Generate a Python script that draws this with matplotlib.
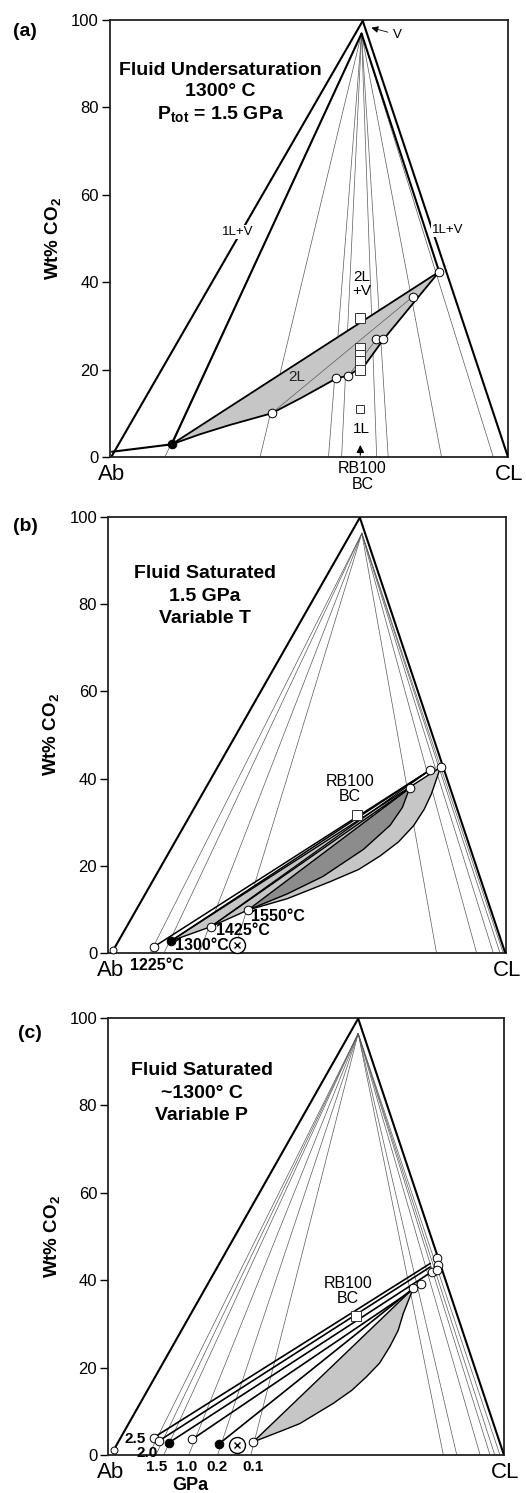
import matplotlib
matplotlib.use("Agg")
import matplotlib.pyplot as plt

plt.rcParams['font.family'] = ['Liberation Sans', 'DejaVu Sans']
plt.rcParams['mathtext.fontset'] = 'custom'
plt.rcParams['mathtext.rm'] = 'Liberation Sans'
plt.rcParams['mathtext.bf'] = 'Liberation Sans:bold'
plt.rcParams['mathtext.it'] = 'Liberation Sans:italic'

LIGHT = '#c6c6c6'
DARK = '#8c8c8c'
FAN = '#5a5a5a'

# ---------------- (a) fluid undersaturation, 1300 C, 1.5 GPa
a_apex = [63.5, 99.8]
a_fan_top = [63.2, 96.9]
a_ab = [0.5, 0.3]
a_cl = [100.0, 0.0]
a_fan_base = [13.8, 37.7, 54.9, 58.2, 67.0, 69.9, 83.3, 96.3]
a_dot = [15.5, 2.9]
a_liq_x = [40.6, 56.9, 59.8, 66.9, 68.7, 76.1, 82.7]
a_liq_y = [10.0, 18.0, 18.5, 26.9, 26.9, 36.7, 42.4]
a_sq_x = [62.9, 62.9, 62.9, 62.9, 62.9]
a_sq_y = [31.7, 24.9, 23.4, 21.9, 19.9]
a_sq1 = [62.9, 10.9]
a_low_x = [15.5, 22.6, 30.0, 40.6, 48.0, 56.9, 59.8, 64.1, 68.7, 82.7]
a_low_y = [2.9, 5.2, 7.3, 10.0, 13.5, 18.0, 18.6, 21.1, 26.9, 42.4]

# ---------------- (b) fluid saturated, 1.5 GPa, variable T
b_apex = [63.3, 99.8]
b_fan_top = [63.8, 96.2]
b_ab = [1.3, 0.8]
b_cl = [99.8, 0.3]
b_fan_base = [10.5, 14.0, 22.8, 31.5, 82.6, 92.7, 96.9, 98.6, 99.4]
b_temps = ['1225°C', '1300°C', '1425°C', '1550°C']
b_left_x = [11.5, 15.7, 25.8, 35.1]
b_left_y = [1.5, 2.8, 6.1, 9.9]
b_left_fill = ['white', 'black', 'white', 'white']
b_right_x = [75.8, 81.0, 83.6]
b_right_y = [37.8, 42.0, 42.6]
b_sq = [62.5, 31.7]
b_xcirc = [32.5, 1.9]
b_outer_low_x = [35.1, 45.0, 55.8, 63.0, 68.4, 73.0, 76.8, 79.5, 81.3, 83.6]
b_outer_low_y = [9.9, 12.5, 16.4, 19.2, 22.3, 25.5, 29.2, 33.0, 36.5, 42.6]
b_dark_low_x = [35.1, 45.0, 54.0, 64.2, 70.9, 74.0, 75.8]
b_dark_low_y = [9.9, 13.6, 17.6, 23.8, 29.3, 33.4, 37.8]

# ---------------- (c) fluid saturated, ~1300 C, variable P
c_apex = [63.1, 99.8]
c_fan_top = [63.1, 96.4]
c_ab = [1.4, 1.2]
c_cl = [99.8, 0.3]
c_fan_base = [10.2, 12.0, 14.0, 20.3, 27.6, 36.0, 84.6, 88.0, 93.9, 96.4, 97.6, 98.9]
c_press = ['2.5', '2.0', '1.5', '1.0', '0.2', '0.1']
c_left_x = [11.5, 12.9, 15.3, 21.2, 27.9, 36.6]
c_left_y = [4.0, 3.3, 2.8, 3.6, 2.5, 3.0]
c_left_fill = ['white', 'white', 'black', 'white', 'black', 'white']
c_tie_x = [81.3, 81.3, 81.7, 78.9, 77.0, 77.0]
c_tie_y = [43.8, 43.0, 41.9, 39.0, 38.1, 38.1]
c_right_x = [82.9, 83.3, 81.7, 82.9, 77.0, 78.9]
c_right_y = [45.0, 43.4, 41.9, 42.3, 38.1, 39.0]
c_sq = [62.5, 31.8]
c_xcirc = [32.6, 2.3]
c_low_x = [36.6, 44.0, 48.4, 56.8, 61.5, 65.2, 68.5, 71.1, 73.2, 74.5, 77.0]
c_low_y = [3.0, 5.6, 7.2, 11.8, 14.8, 17.9, 21.0, 24.8, 28.5, 32.4, 38.1]

W, H = 526, 1493
fig = plt.figure(figsize=(W / 100, H / 100), dpi=100)


def make_axes(left, top, right, bottom):
    ax = fig.add_axes([left / W, 1 - bottom / H, (right - left) / W, (bottom - top) / H])
    ax.set_xlim(0, 100)
    ax.set_ylim(0, 100)
    ax.set_xticks([])
    ax.set_yticks([0, 20, 40, 60, 80, 100])
    ax.tick_params(axis='y', direction='out', length=6, width=1, labelsize=12, pad=2)
    for s in ax.spines.values():
        s.set_linewidth(1.3)
        s.set_color('#222222')
    ax.set_ylabel('Wt% CO$_\\mathbf{2}$', fontsize=13.5, fontweight='bold')
    ax.yaxis.set_label_coords(-0.118, 0.5)
    ax.text(0.5, -4.0, 'Ab', ha='center', va='center', fontsize=16, clip_on=False)
    ax.text(100.3, -4.0, 'CL', ha='center', va='center', fontsize=16, clip_on=False)
    return ax


def fan(ax, top, bases):
    for b in bases:
        ax.plot([top[0], b], [top[1], 0], color=FAN, lw=0.5, zorder=1)


def seg(ax, p, q, lw=1.5, color='black', z=3):
    ax.plot([p[0], q[0]], [p[1], q[1]], color=color, lw=lw, zorder=z, solid_capstyle='round')


def circles(ax, xs, ys, fc='white', ms=6.2, z=6):
    ax.plot(xs, ys, 'o', mfc=fc, mec='black', mew=0.7, ms=ms, ls='none', zorder=z, clip_on=False)


def xcircle(ax, p):
    ax.plot([p[0]], [p[1]], 'o', mfc='white', mec='black', mew=1.0, ms=11.5, zorder=6, clip_on=False)
    ax.plot([p[0]], [p[1]], 'x', color='black', mew=1.0, ms=4, zorder=7)


# ================= panel (a)
ax = make_axes(110, 20, 508, 457)
fan(ax, a_fan_top, a_fan_base)
seg(ax, a_ab, a_apex)
seg(ax, a_apex, a_cl)
seg(ax, [a_ab[0], 1.2], a_dot)
seg(ax, a_dot, a_fan_top)
seg(ax, a_fan_top, [a_liq_x[-1], a_liq_y[-1]])
lens_x = [a_dot[0], a_liq_x[-1]] + a_low_x[::-1]
lens_y = [a_dot[1], a_liq_y[-1]] + a_low_y[::-1]
ax.fill(lens_x, lens_y, facecolor=LIGHT, edgecolor='black', lw=1.3, zorder=2)
seg(ax, [a_liq_x[0], a_liq_y[0]], [a_liq_x[5], a_liq_y[5]], lw=0.5, color=FAN, z=2.5)
seg(ax, [a_liq_x[2], a_liq_y[2]], [a_liq_x[3], a_liq_y[3]], lw=0.5, color=FAN, z=2.5)
circles(ax, a_liq_x, a_liq_y)
circles(ax, [a_dot[0]], [a_dot[1]], fc='black')
ax.plot(a_sq_x, a_sq_y, 's', mfc='white', mec='#333333', mew=0.7, ms=6.5, ls='none', zorder=6)
ax.plot([a_sq1[0]], [a_sq1[1]], 's', mfc='white', mec='#333333', mew=0.7, ms=5.5, zorder=6)
ax.text(27.8, 88.4, 'Fluid Undersaturation', ha='center', va='center', fontsize=14, fontweight='bold')
ax.text(27.8, 83.6, '1300° C', ha='center', va='center', fontsize=14, fontweight='bold')
ax.text(27.8, 78.6, r'$\mathbf{P_{tot}}$ = 1.5 GPa', ha='center', va='center', fontsize=14, fontweight='bold')
box = dict(facecolor='white', edgecolor='none', pad=0.6)
ax.text(32.2, 51.5, '1L+V', ha='center', va='center', fontsize=9.5, bbox=box, zorder=4)
ax.text(84.8, 51.9, '1L+V', ha='center', va='center', fontsize=9.5, bbox=box, zorder=4)
ax.text(46.9, 18.4, '2L', ha='center', va='center', fontsize=11, color='#222222', zorder=5)
ax.text(63.2, 39.6, '2L\n+V', ha='center', va='center', fontsize=11, linespacing=1.0, zorder=5)
ax.text(63.2, 6.5, '1L', ha='center', va='center', fontsize=11, zorder=5)
ax.annotate('', xy=(62.9, 3.4), xytext=(62.9, -0.2),
            arrowprops=dict(arrowstyle='-|>', color='black', lw=0.9, mutation_scale=11), zorder=5)
ax.annotate('V', xy=(65.0, 98.4), xytext=(71.2, 96.6), fontsize=9.5, ha='left', va='center',
            arrowprops=dict(arrowstyle='-|>', color='black', lw=0.6, mutation_scale=10), zorder=5)
ax.text(63.4, -0.9, 'RB100\nBC', ha='center', va='top', fontsize=11.5, linespacing=1.05, clip_on=False)

# ================= panel (b)
ax = make_axes(108.3, 516.7, 505.7, 953.3)
fan(ax, b_fan_top, b_fan_base)
seg(ax, b_ab, b_apex)
seg(ax, b_apex, b_cl)
dot = [b_left_x[1], b_left_y[1]]
outer_x = [dot[0], b_right_x[2]] + b_outer_low_x[::-1] + [b_left_x[2], dot[0]]
outer_y = [dot[1], b_right_y[2]] + b_outer_low_y[::-1] + [b_left_y[2], dot[1]]
ax.fill(outer_x, outer_y, facecolor=LIGHT, edgecolor='black', lw=1.0, zorder=2)
dark_x = [b_left_x[3], b_right_x[0]] + b_dark_low_x[::-1]
dark_y = [b_left_y[3], b_right_y[0]] + b_dark_low_y[::-1]
ax.fill(dark_x, dark_y, facecolor=DARK, edgecolor='black', lw=1.0, zorder=2.5)
seg(ax, [b_left_x[0], b_left_y[0]], [b_right_x[1], b_right_y[1]], lw=1.1)
seg(ax, dot, [b_right_x[1], b_right_y[1]], lw=1.1)
seg(ax, [b_left_x[2], b_left_y[2]], [b_right_x[0], b_right_y[0]], lw=1.0)
seg(ax, [b_left_x[2], b_left_y[2]], [b_right_x[1], b_right_y[1]], lw=0.9)
for x, y, fc in zip(b_left_x, b_left_y, b_left_fill):
    circles(ax, [x], [y], fc=fc)
circles(ax, b_right_x, b_right_y)
circles(ax, [b_ab[0]], [b_ab[1]], ms=5)
ax.plot([b_sq[0]], [b_sq[1]], 's', mfc='white', mec='#333333', mew=0.7, ms=6.5, zorder=6)
xcircle(ax, b_xcirc)
ax.text(24.3, 87.0, 'Fluid Saturated', ha='center', va='center', fontsize=14, fontweight='bold')
ax.text(24.3, 81.7, '1.5 GPa', ha='center', va='center', fontsize=14, fontweight='bold')
ax.text(24.3, 76.7, 'Variable T', ha='center', va='center', fontsize=14, fontweight='bold')
ax.text(60.8, 37.6, 'RB100\nBC', ha='center', va='center', fontsize=11.5, linespacing=1.05)
b_lab_x = [12.2, 23.5, 34.0, 42.8]
b_lab_y = [-2.7, 1.9, 5.3, 8.4]
for t, x, y in zip(b_temps, b_lab_x, b_lab_y):
    ax.text(x, y, t, ha='center', va='center', fontsize=11.5, fontweight='bold', zorder=7, clip_on=False)

# ================= panel (c)
ax = make_axes(108.3, 1017.7, 504.3, 1455)
fan(ax, c_fan_top, c_fan_base)
seg(ax, c_ab, c_apex)
seg(ax, c_apex, c_cl)
lens_x = [c_left_x[-1], c_tie_x[-1]] + c_low_x[::-1]
lens_y = [c_left_y[-1], c_tie_y[-1]] + c_low_y[::-1]
ax.fill(lens_x, lens_y, facecolor=LIGHT, edgecolor='black', lw=1.0, zorder=2)
for x0, y0, x1, y1 in zip(c_left_x[:-1], c_left_y[:-1], c_tie_x[:-1], c_tie_y[:-1]):
    seg(ax, [x0, y0], [x1, y1], lw=1.2)
for x, y, fc in zip(c_left_x, c_left_y, c_left_fill):
    circles(ax, [x], [y], fc=fc)
circles(ax, c_right_x, c_right_y)
circles(ax, [c_ab[0]], [c_ab[1]], ms=5)
ax.plot([c_sq[0]], [c_sq[1]], 's', mfc='white', mec='#333333', mew=0.7, ms=6.5, zorder=6)
xcircle(ax, c_xcirc)
ax.text(23.6, 88.0, 'Fluid Saturated', ha='center', va='center', fontsize=14, fontweight='bold')
ax.text(23.6, 82.7, '~1300° C', ha='center', va='center', fontsize=14, fontweight='bold')
ax.text(23.6, 77.7, 'Variable P', ha='center', va='center', fontsize=14, fontweight='bold')
ax.text(60.6, 37.5, 'RB100\nBC', ha='center', va='center', fontsize=11.5, linespacing=1.05)
c_lab_x = [6.9, 9.7, 12.2, 19.8, 27.4, 36.6]
c_lab_y = [3.6, 0.4, -2.7, -2.7, -2.7, -2.7]
for t, x, y in zip(c_press, c_lab_x, c_lab_y):
    ax.text(x, y, t, ha='center', va='center', fontsize=11, fontweight='bold', zorder=7, clip_on=False)
ax.text(20.6, -7.0, 'GPa', ha='center', va='center', fontsize=13, fontweight='bold', clip_on=False)

for lab, px, py in [('(a)', 25, 31.7), ('(b)', 25, 526.7), ('(c)', 30, 1033.3)]:
    fig.text(px / W, 1 - py / H, lab, ha='center', va='center', fontsize=14, fontweight='bold')

fig.savefig('out.png', dpi=100)
